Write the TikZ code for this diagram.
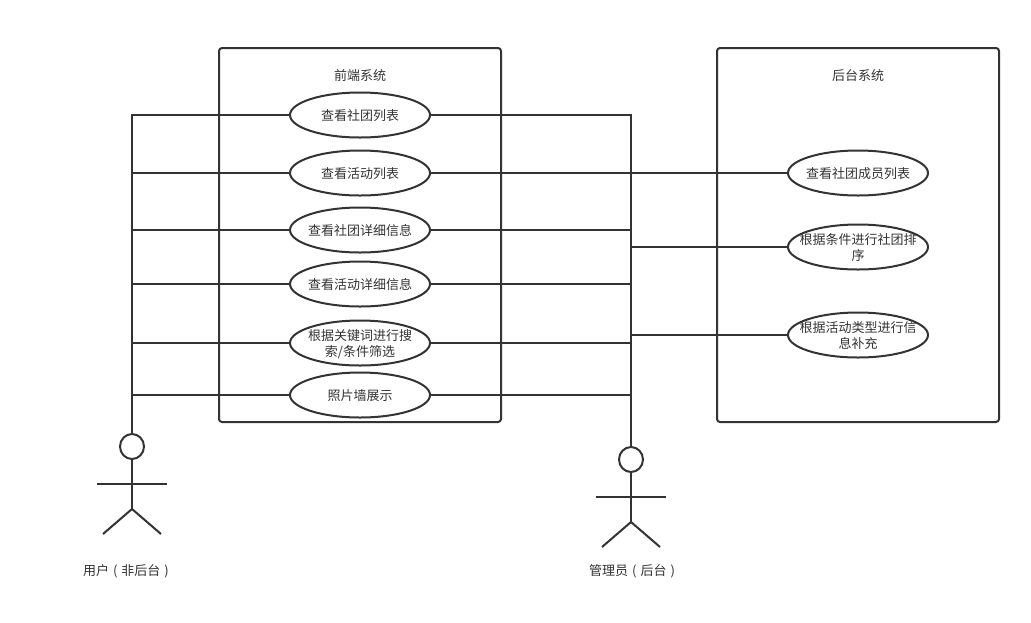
\documentclass[tikz,border=0pt]{standalone}
\usepackage{fontspec}
\setmainfont{Noto Sans CJK SC}
\usetikzlibrary{shapes.geometric}
\definecolor{ink}{RGB}{51,51,51}
\newcommand{\casetext}[1]{\makebox[0pt]{\raisebox{-5.75pt}[0pt][0pt]{\begin{tabular}{@{}c@{}}#1\end{tabular}}}}
\newcommand{\gap}{\hspace{4pt}}
\tikzset{
  line/.style={draw=ink,line width=2pt},
  sysbox/.style={line,rectangle,rounded corners=3pt,minimum width=282pt,minimum height=374pt,inner sep=0pt},
  usecase/.style={line,ellipse,minimum width=140pt,minimum height=45pt,inner sep=0pt,text=ink,font=\fontsize{13pt}{16pt}\selectfont},
  head/.style={line,ellipse,minimum width=24pt,minimum height=25pt,inner sep=0pt},
  caption/.style={text=ink,inner sep=0pt,font=\fontsize{13pt}{16pt}\selectfont}
}
\begin{document}
\begin{tikzpicture}[x=1pt,y=-1pt]
    \useasboundingbox (0,0) rectangle (1031,622);
    % system boxes
    \node[sysbox] (front) at (360,235) {};
    \node[sysbox] (back) at (858,235) {};
    \node[caption] (fronttitle) at (360,76) {前端系统};
    \node[caption] (backtitle) at (858,76) {后台系统};
    % actors
    \node[head] (userhead) at (132,446.5) {};
    \node[head] (adminhead) at (631,459.5) {};
    \node[caption] (userlabel) at (126,571.5) {用户\gap{}(\gap{}非后台\gap{})};
    \node[caption] (adminlabel) at (632,571.5) {管理员\gap{}(\gap{}后台\gap{})};
    % use cases
    \node[usecase] (list) at (360,115) {\casetext{查看社团列表}};
    \node[usecase] (act) at (360,173) {\casetext{查看活动列表}};
    \node[usecase] (info) at (360,230) {\casetext{查看社团详细信息}};
    \node[usecase] (actinfo) at (360,284) {\casetext{查看活动详细信息}};
    \node[usecase] (search) at (360,343) {\casetext{根据关键词进行搜\\索/条件筛选}};
    \node[usecase] (photo) at (360,395) {\casetext{照片墙展示}};
    \node[usecase] (member) at (858,173) {\casetext{查看社团成员列表}};
    \node[usecase] (sort) at (858,247) {\casetext{根据条件进行社团排\\序}};
    \node[usecase] (extra) at (858,335) {\casetext{根据活动类型进行信\\息补充}};
    % connectors
    \foreach \c in {list,act,info,actinfo,search,photo}{
      \draw[line] (userhead.north) |- (\c.west);
      \draw[line] (adminhead.north) |- (\c.east);
    };
    \foreach \c in {member,sort,extra}
      \draw[line] (adminhead.north) |- (\c.west);
    % user figure
    \coordinate (userhip) at (132,509);
    \coordinate (userarml) at (97,484);
    \coordinate (userarmr) at (167,484);
    \coordinate (userfootl) at (103,534);
    \coordinate (userfootr) at (161,534);
    \draw[line] (userhead.south) -- (userhip);
    \draw[line] (userarml) -- (userarmr);
    \draw[line] (userfootl) -- (userhip) -- (userfootr);
    % admin figure
    \coordinate (adminhip) at (631,522);
    \coordinate (adminarml) at (596,497);
    \coordinate (adminarmr) at (666,497);
    \coordinate (adminfootl) at (602,547);
    \coordinate (adminfootr) at (660,547);
    \draw[line] (adminhead.south) -- (adminhip);
    \draw[line] (adminarml) -- (adminarmr);
    \draw[line] (adminfootl) -- (adminhip) -- (adminfootr);
\end{tikzpicture}
\end{document}
